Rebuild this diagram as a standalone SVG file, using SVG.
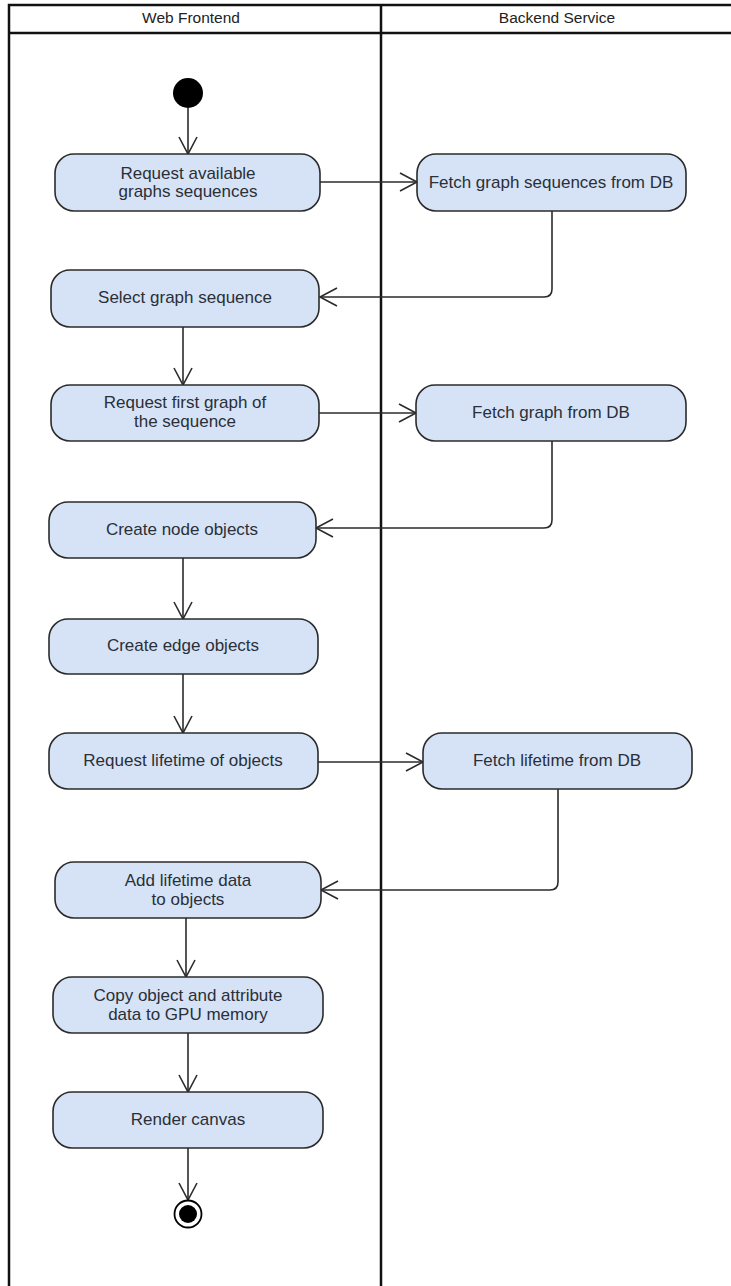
<svg xmlns="http://www.w3.org/2000/svg" width="731" height="1286" viewBox="0 0 731 1286">
  <style>
    .lane { fill: none; stroke: #111; stroke-width: 2.5; }
    .lane-title { font-family: "Liberation Sans", Arial, sans-serif; font-size: 15.5px; fill: #222; text-anchor: middle; }
    .act rect { fill: #d6e3f6; stroke: #2b2b2b; stroke-width: 1.6; }
    .act text { font-family: "Liberation Sans", Arial, sans-serif; font-size: 17px; fill: #2a2f38; text-anchor: middle; }
    .flow { fill: none; stroke: #2b2b2b; stroke-width: 1.6; marker-end: url(#open); }
  </style>
  <defs>
    <marker id="open" viewBox="-20 -12 22 24" markerWidth="22" markerHeight="24" refX="0" refY="0" orient="auto" markerUnits="userSpaceOnUse">
      <path d="M-17,-9 L0,0 L-17,9" fill="none" stroke="#2b2b2b" stroke-width="1.6"/>
    </marker>
  </defs>

  <rect width="731" height="1286" fill="#ffffff"/>

  <!-- swimlanes -->
  <g id="lanes">
    <rect class="lane" x="9" y="5" width="740" height="1300"/>
    <line class="lane" x1="9" y1="33" x2="731" y2="33" stroke-width="2"/>
    <line class="lane" x1="381" y1="5" x2="381" y2="1290"/>
    <text class="lane-title" x="191" y="23">Web Frontend</text>
    <text class="lane-title" x="557" y="23">Backend Service</text>
  </g>

  <!-- connectors -->
  <g id="connectors">
    <path class="flow" d="M188,108 L188,154"/>
    <path class="flow" d="M320,182 L417,182"/>
    <path class="flow" d="M552,211 L552,289 Q552,297 544,297 L320,297"/>
    <path class="flow" d="M183,327 L183,385"/>
    <path class="flow" d="M319,413 L416,413"/>
    <path class="flow" d="M552,441 L552,520 Q552,528 544,528 L316,528"/>
    <path class="flow" d="M183,558 L183,619"/>
    <path class="flow" d="M183,674 L183,733"/>
    <path class="flow" d="M318,762 L423,762"/>
    <path class="flow" d="M558,789 L558,882 Q558,890 550,890 L321,890"/>
    <path class="flow" d="M186,918 L186,977"/>
    <path class="flow" d="M188,1033 L188,1092"/>
    <path class="flow" d="M188,1148 L188,1200"/>
  </g>

  <!-- initial state -->
  <g id="start">
    <circle cx="188" cy="93" r="15" fill="#000"/>
  </g>

  <g id="req-sequences" class="act">
    <rect x="55" y="154" width="265" height="57" rx="19"/>
    <text x="188" y="179">Request available</text>
    <text x="188" y="197">graphs sequences</text>
  </g>

  <g id="fetch-sequences" class="act">
    <rect x="417" y="154" width="269" height="57" rx="19"/>
    <text x="551" y="188">Fetch graph sequences from DB</text>
  </g>

  <g id="select-sequence" class="act">
    <rect x="51" y="270" width="268" height="57" rx="19"/>
    <text x="185" y="303">Select graph sequence</text>
  </g>

  <g id="req-first-graph" class="act">
    <rect x="51" y="385" width="268" height="56" rx="19"/>
    <text x="185" y="408">Request first graph of</text>
    <text x="185" y="427">the sequence</text>
  </g>

  <g id="fetch-graph" class="act">
    <rect x="416" y="385" width="270" height="56" rx="19"/>
    <text x="551" y="418">Fetch graph from DB</text>
  </g>

  <g id="create-nodes" class="act">
    <rect x="49" y="502" width="267" height="56" rx="19"/>
    <text x="182" y="535">Create node objects</text>
  </g>

  <g id="create-edges" class="act">
    <rect x="49" y="619" width="269" height="55" rx="19"/>
    <text x="183" y="651">Create edge objects</text>
  </g>

  <g id="req-lifetime" class="act">
    <rect x="49" y="733" width="269" height="56" rx="19"/>
    <text x="183" y="766">Request lifetime of objects</text>
  </g>

  <g id="fetch-lifetime" class="act">
    <rect x="423" y="733" width="269" height="56" rx="19"/>
    <text x="557" y="766">Fetch lifetime from DB</text>
  </g>

  <g id="add-lifetime" class="act">
    <rect x="55" y="862" width="266" height="56" rx="19"/>
    <text x="188" y="886">Add lifetime data</text>
    <text x="188" y="905">to objects</text>
  </g>

  <g id="copy-gpu" class="act">
    <rect x="53" y="977" width="270" height="56" rx="19"/>
    <text x="188" y="1001">Copy object and attribute</text>
    <text x="188" y="1020">data to GPU memory</text>
  </g>

  <g id="render-canvas" class="act">
    <rect x="53" y="1092" width="270" height="56" rx="19"/>
    <text x="188" y="1125">Render canvas</text>
  </g>

  <!-- final state -->
  <g id="end">
    <circle cx="188" cy="1214" r="13.5" fill="#fff" stroke="#000" stroke-width="1.8"/>
    <circle cx="188" cy="1214" r="9" fill="#000"/>
  </g>
</svg>
